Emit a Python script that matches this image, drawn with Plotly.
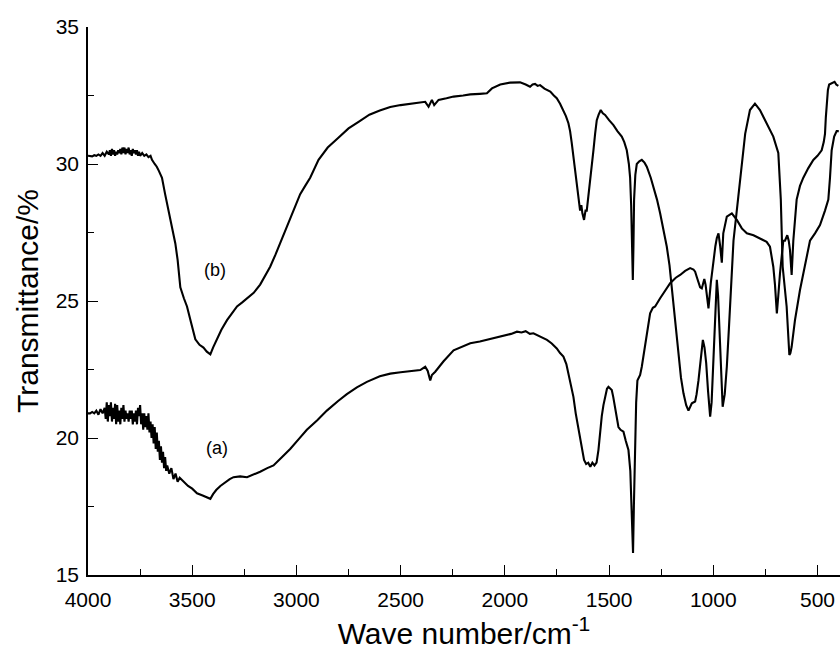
import plotly.graph_objects as go

# ---- data (wavenumber cm-1, transmittance %) ----
wn_a = [4000, 3990, 3980, 3970, 3960, 3950, 3940, 3930, 3920,
        3915, 3910, 3905, 3900, 3895, 3890, 3885, 3880, 3875, 3870, 3865, 3860, 3855, 3850,
        3845, 3840, 3835, 3830, 3825, 3820, 3815, 3810, 3805, 3800, 3795, 3790, 3785, 3780,
        3775, 3770, 3765, 3760, 3755, 3750, 3745, 3740, 3735, 3730, 3725, 3720, 3715, 3710,
        3705, 3700, 3695, 3690, 3685, 3680, 3675, 3670, 3665, 3660, 3655, 3650, 3645, 3640,
        3635, 3630, 3625, 3620, 3610, 3600, 3590, 3580, 3570, 3560, 3541, 3520, 3500, 3477,
        3450, 3430, 3413, 3400, 3385, 3365, 3340, 3320, 3302, 3270, 3237, 3210, 3174, 3140,
        3110, 3070, 3030, 2990, 2950, 2900, 2854, 2800, 2758, 2710, 2662, 2600, 2550, 2500,
        2450, 2406, 2382, 2370, 2358, 2350, 2334, 2294, 2246, 2200, 2166, 2120, 2086, 2040,
        2007, 1970, 1942, 1920, 1900, 1880, 1863, 1830, 1798, 1775, 1751, 1735, 1719, 1705,
        1695, 1683, 1671, 1660, 1647, 1631, 1620, 1610, 1600, 1590, 1580, 1570, 1560, 1551,
        1543, 1535, 1527, 1519, 1510, 1503, 1495, 1487, 1480, 1472, 1463, 1455, 1445, 1431,
        1420, 1407, 1398, 1390, 1385, 1381, 1377, 1370, 1364, 1351, 1343, 1335, 1319, 1303,
        1290, 1279, 1255, 1230, 1207, 1180, 1159, 1135, 1111, 1095, 1087, 1078, 1071, 1063,
        1055, 1043, 1037, 1031, 1023, 1012, 999, 990, 983, 975, 967, 959, 952, 944, 935, 911,
        887, 863, 839, 807, 776, 744, 728, 712, 704, 699, 695, 688, 680, 664, 656, 645, 638,
        632, 624, 616, 608, 600, 584, 568, 544, 520, 500, 480, 470, 464, 460, 456, 450, 444,
        430, 418, 410, 400]
t_a = [20.9, 20.9, 20.95, 20.9, 21.0, 20.85, 21.05, 20.9, 21.1,
       20.7, 21.3, 20.6, 21.2, 20.8, 21.3, 20.6, 21.1, 20.7, 21.25, 20.5, 21.2, 20.6, 21.0,
       20.5, 21.1, 20.7, 21.2, 20.6, 21.0, 20.7, 20.9, 20.6, 21.0, 20.7, 21.0, 20.5, 20.9,
       20.6, 21.0, 20.5, 21.1, 20.8, 21.2, 20.5, 20.9, 20.3, 20.9, 20.4, 20.8, 20.3, 20.9,
       20.2, 20.6, 20.0, 20.5, 19.8, 20.4, 19.6, 20.2, 19.5, 19.9, 19.2, 19.7, 19.1, 19.5,
       18.9, 19.3, 18.8, 19.0, 18.7, 18.9, 18.5, 18.7, 18.4, 18.55, 18.4, 18.25, 18.15, 17.98,
       17.9, 17.85, 17.78, 17.95, 18.1, 18.25, 18.4, 18.5, 18.57, 18.6, 18.57, 18.65, 18.77, 18.9,
       19.0, 19.3, 19.6, 19.95, 20.3, 20.65, 21.0, 21.35, 21.6, 21.85, 22.05, 22.25, 22.35, 22.4,
       22.45, 22.48, 22.6, 22.45, 22.1, 22.3, 22.42, 22.8, 23.2, 23.35, 23.46, 23.52, 23.58, 23.65,
       23.72, 23.8, 23.88, 23.85, 23.9, 23.8, 23.82, 23.7, 23.58, 23.45, 23.27, 23.1, 22.97, 22.7,
       22.36, 21.9, 21.5, 20.9, 20.3, 19.56, 19.2, 19.05, 19.1, 18.95, 19.1, 19.0, 19.1, 19.56,
       20.3, 20.8, 21.2, 21.5, 21.8, 21.87, 21.8, 21.75, 21.5, 21.1, 20.7, 20.4, 20.3, 20.23,
       19.9, 19.56, 18.8, 17.0, 15.8, 17.5, 19.5, 21.3, 22.1, 22.3, 22.6, 22.97, 23.8, 24.55,
       24.75, 24.8, 25.1, 25.4, 25.65, 25.85, 25.95, 26.1, 26.2, 26.15, 26.07, 25.85, 25.65, 25.5,
       25.46, 25.8, 25.6, 25.28, 24.73, 25.65, 26.5, 27.0, 27.3, 27.47, 27.0, 26.4, 27.47, 27.8, 28.08, 28.2,
       27.96, 27.65, 27.47, 27.4, 27.29, 27.16, 26.98, 26.25, 25.6, 25.0, 24.55, 25.2, 26.0, 27.2, 27.2, 27.4, 27.2,
       26.86, 25.95, 27.2, 28.0, 28.7, 29.2, 29.5, 29.85, 30.15, 30.3, 30.5, 30.8, 31.1, 31.7, 32.3, 32.7, 32.9,
       32.95, 33.0, 32.9, 32.85]

wn_b = [4000, 3990, 3980, 3970, 3960, 3950, 3940, 3930, 3920, 3910, 3900, 3895, 3890, 3885,
        3880, 3875, 3870, 3865, 3860, 3855, 3850, 3845, 3840, 3835, 3830, 3825, 3820, 3815,
        3810, 3805, 3800, 3795, 3790, 3785, 3780, 3775, 3770, 3765, 3760, 3755, 3750, 3740,
        3730, 3720, 3710, 3700, 3693, 3680, 3670, 3660, 3645, 3630, 3613, 3600, 3581, 3570,
        3557, 3540, 3525, 3505, 3485, 3465, 3446, 3430, 3413, 3400, 3381, 3360, 3333, 3310,
        3285, 3260, 3237, 3205, 3174, 3150, 3126, 3100, 3078, 3055, 3030, 3005, 2982, 2958,
        2934, 2894, 2850, 2800, 2750, 2700, 2650, 2600, 2550, 2500, 2450, 2406, 2382, 2366,
        2358, 2350, 2339, 2318, 2280, 2246, 2200, 2166, 2120, 2086, 2062, 2040, 2022, 1975,
        1950, 1927, 1900, 1879, 1867, 1855, 1843, 1831, 1810, 1782, 1765, 1751, 1735, 1719,
        1707, 1695, 1687, 1679, 1671, 1663, 1655, 1647, 1639, 1633, 1628, 1620, 1613, 1607,
        1599, 1591, 1583, 1575, 1567, 1559, 1550, 1540, 1530, 1519, 1500, 1479, 1460, 1439,
        1427, 1415, 1405, 1399, 1394, 1391, 1386, 1383, 1380, 1374, 1367, 1355, 1343, 1330,
        1319, 1300, 1287, 1270, 1255, 1240, 1223, 1210, 1199, 1191, 1180, 1167, 1155, 1143,
        1130, 1119, 1110, 1103, 1087, 1080, 1071, 1060, 1050, 1042, 1034, 1025, 1015, 1008,
        1002, 995, 988, 983, 977, 971, 963, 955, 945, 935, 925, 916, 903, 880, 863, 847, 824,
        800, 776, 744, 712, 688, 680, 676, 667, 656, 648, 635, 630, 624, 608, 584, 552, 536,
        512, 488, 464, 448, 440, 432, 420, 408, 398]
t_b = [30.3, 30.3, 30.28, 30.32, 30.3, 30.35, 30.3, 30.4, 30.3, 30.45, 30.35, 30.5, 30.3, 30.55,
       30.35, 30.5, 30.3, 30.45, 30.35, 30.5, 30.4, 30.55, 30.35, 30.6, 30.4, 30.6, 30.35, 30.55,
       30.4, 30.6, 30.35, 30.5, 30.3, 30.55, 30.4, 30.5, 30.35, 30.5, 30.3, 30.45, 30.3, 30.4,
       30.3, 30.35, 30.25, 30.3, 30.15, 30.0, 29.9, 29.75, 29.5, 28.9, 28.3, 27.8, 27.1, 26.5,
       25.5, 25.1, 24.8, 24.2, 23.6, 23.4, 23.3, 23.15, 23.05, 23.3, 23.6, 23.95, 24.3, 24.55,
       24.8, 24.95, 25.1, 25.3, 25.6, 25.9, 26.25, 26.7, 27.1, 27.55, 28.0, 28.45, 28.9, 29.2,
       29.5, 30.15, 30.6, 30.95, 31.3, 31.55, 31.8, 31.95, 32.08, 32.15, 32.2, 32.27, 32.27, 32.09,
       32.2, 32.34, 32.15, 32.34, 32.4, 32.46, 32.5, 32.54, 32.56, 32.58, 32.76, 32.85, 32.9, 32.97,
       32.98, 32.98, 32.9, 32.82, 32.9, 32.92, 32.85, 32.88, 32.75, 32.64, 32.5, 32.4, 32.2, 31.97,
       31.75, 31.49, 31.2, 30.76, 30.3, 29.78, 29.3, 28.8, 28.3, 28.5, 28.2, 27.96, 28.3, 28.3,
       28.8, 29.3, 29.9, 30.5, 31.1, 31.6, 31.8, 31.97, 31.85, 31.79, 31.6, 31.42, 31.2, 31.0,
       30.8, 30.5, 30.0, 29.5, 28.5, 27.47, 25.77, 27.0, 28.7, 29.6, 30.0, 30.1, 30.15, 30.05,
       29.9, 29.5, 29.17, 28.7, 28.2, 27.6, 26.98, 26.3, 25.5, 24.8, 23.9, 22.97, 22.2, 21.63,
       21.2, 21.0, 21.15, 21.27, 21.33, 21.6, 22.1, 22.9, 23.58, 23.3, 22.73, 21.7, 20.78, 21.3,
       22.36, 23.8, 25.0, 25.77, 25.2, 24.2, 22.5, 21.14, 21.6, 22.6, 24.0, 25.4, 27.2, 28.8, 29.9, 31.1, 31.97,
       32.2, 31.97, 31.49, 31.0, 30.4, 29.5, 28.7, 26.25, 25.5, 24.8, 23.03, 23.1, 23.33, 24.3, 25.4, 26.6, 27.2,
       27.47, 27.77, 28.3, 28.7, 29.5, 30.5, 31.0, 31.2, 31.2]

x_ticks = [4000, 3500, 3000, 2500, 2000, 1500, 1000, 500]
y_ticks = [15, 20, 25, 30, 35]
curve_labels = ["(a)", "(b)"]
label_pos = [(3383, 19.62), (3390, 26.13)]

FONT = "Liberation Sans, Arial"

fig = go.Figure()
for wn, t in [(wn_a, t_a), (wn_b, t_b)]:
    fig.add_trace(go.Scatter(x=wn, y=t, mode="lines",
                             line=dict(color="black", width=2.1),
                             showlegend=False, hoverinfo="skip"))

for txt, (lx, ly) in zip(curve_labels, label_pos):
    fig.add_annotation(x=lx, y=ly, text=txt, showarrow=False,
                       font=dict(family=FONT, size=18, color="black"))

axis_common = dict(showgrid=False, zeroline=False, showline=True, linecolor="black",
                   linewidth=1.6, ticks="inside", ticklen=10, tickwidth=1.4,
                   tickcolor="black", mirror=False, automargin=False,
                   tickfont=dict(family=FONT, size=21, color="black"))

fig.update_xaxes(range=[4000, 392], tickvals=x_ticks, ticklabelstandoff=5,
                 minor=dict(dtick=250, ticks="inside", ticklen=6, tickwidth=1.4,
                            tickcolor="black"),
                 title=dict(text="Wave number/cm<sup>-1</sup>",
                            font=dict(family=FONT, size=30, color="black"),
                            standoff=13),
                 **axis_common)
fig.update_yaxes(range=[15, 35], tickvals=y_ticks, ticklabelstandoff=3,
                 minor=dict(dtick=2.5, ticks="inside", ticklen=6, tickwidth=1.4,
                            tickcolor="black"),
                 title=dict(text="Transmittance/%",
                            font=dict(family=FONT, size=30, color="black"),
                            standoff=8),
                 **axis_common)

fig.update_layout(width=840, height=663, plot_bgcolor="white", paper_bgcolor="white",
                  margin=dict(l=88, r=0, t=27, b=88))
fig.write_html("out.html", config={"displayModeBar": False},
               post_script="document.body.style.margin='0';document.body.style.padding='0';")
